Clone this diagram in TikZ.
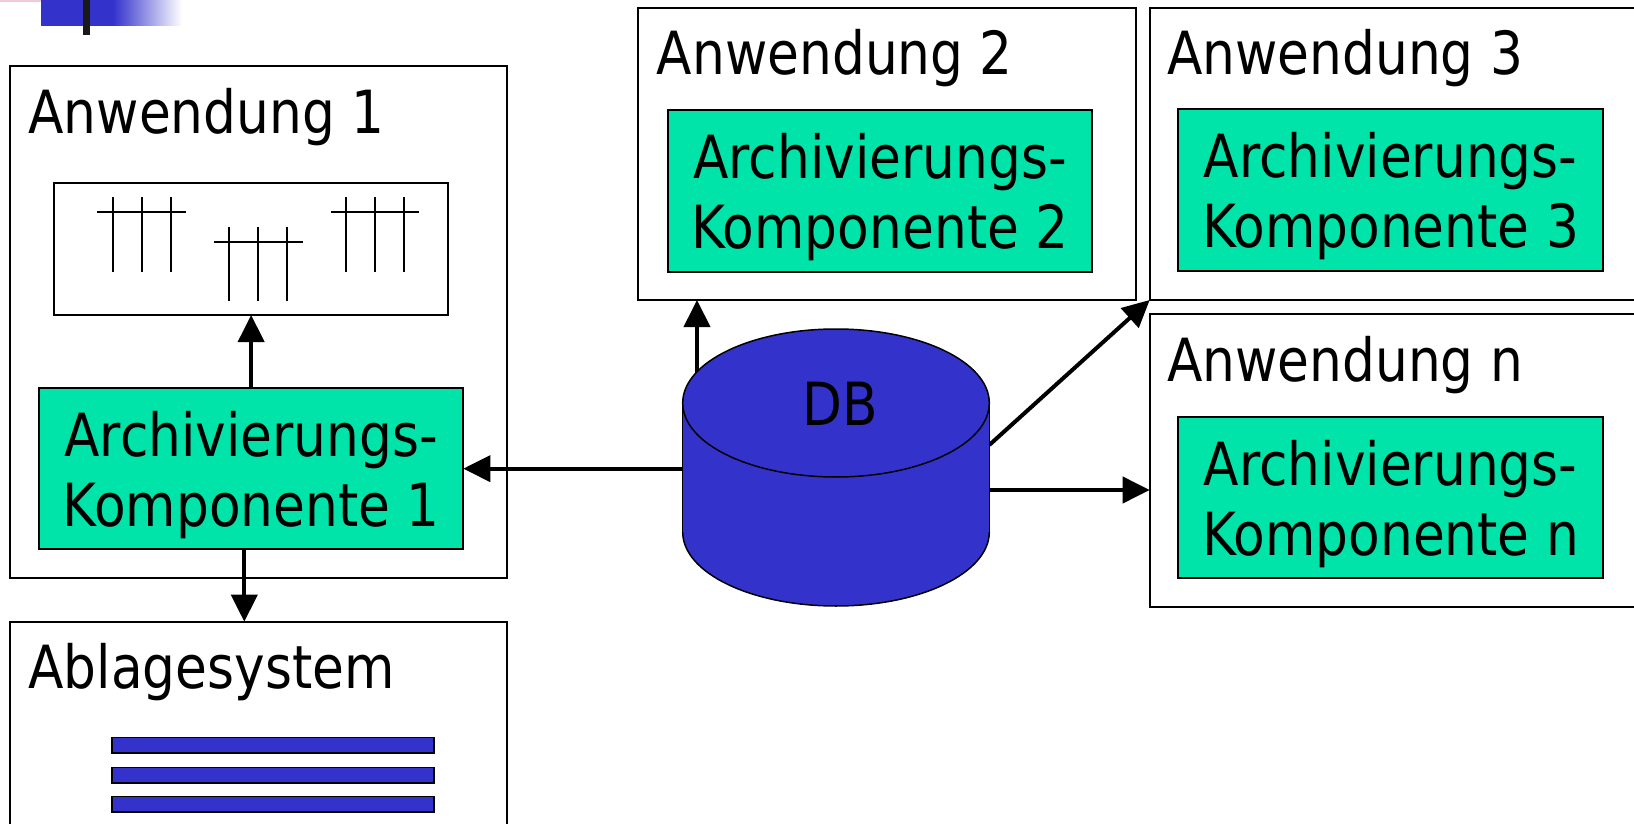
\documentclass[tikz,border=0pt]{standalone}
\usepackage{fontspec}
\setmainfont{DejaVu Sans}[FakeStretch=0.87]
\usetikzlibrary{arrows.meta,calc}
\definecolor{dbblue}{RGB}{51,51,204}
\definecolor{akgreen}{RGB}{0,228,170}
\definecolor{pinkish}{RGB}{240,200,215}
\begin{document}
\begin{tikzpicture}[x=1pt,y=-1pt,
  box/.style={draw=black,line width=2pt,fill=white,inner sep=0pt,outer sep=0pt,anchor=north west},
  akbox/.style={box,fill=akgreen,minimum width=424.5pt,minimum height=161.5pt},
  anwbox/.style={box,minimum width=497.3pt,minimum height=292pt},
  lbl/.style={inner sep=0pt,anchor=base west,font=\fontsize{59.5}{70}\selectfont},
  aktext/.style={inner sep=0pt,align=center,font=\fontsize{59.5}{70}\selectfont},
  arr/.style={line width=4pt,-{Triangle[length=27pt,width=26pt]}},
  tick/.style={line width=2.2pt},
  bar/.style={draw=black,line width=1.5pt,fill=dbblue},
  cyl/.style={draw=black,line width=1.5pt}
]
\useasboundingbox (0,0) rectangle (1634,824);
\clip (0,0) rectangle (1634,824);
\fill[white] (0,0) rectangle (1634,824);

% slide decoration
\fill[pinkish] (0,0) rectangle (69,2.5);
\fill[dbblue] (41,0) rectangle (114,26);
\shade[left color=dbblue,right color=white] (113,0) rectangle (182,26);
\fill[black!90] (83,0) rectangle (90,35);

% boxes
\node[anwbox,minimum height=511.7pt] (anw1) at (10,66) {};
\node[box,minimum width=394.3pt,minimum height=131.7pt] (tab) at (54,183.3) {};
\node[akbox,minimum width=424.3pt,minimum height=160.7pt] (ak1) at (39,388.3) {};
\node[anwbox,minimum height=260pt] (abl) at (10,621.7) {};
\node[anwbox,minimum height=291.7pt] (anw2) at (638.3,8.3) {};
\node[akbox] (ak2) at (667.7,110) {};
\node[anwbox,minimum width=600pt,minimum height=291.7pt] (anw3) at (1149.7,8.3) {};
\node[akbox] (ak3) at (1178.3,109.3) {};
\node[anwbox,minimum width=600pt,minimum height=292.4pt] (anwn) at (1149.7,314.3) {};
\node[akbox] (akn) at (1178.3,416.7) {};

% titles
\node[lbl] (l1) at (28.3,133.3) {Anwendung 1};
\node[lbl] (l2) at (656.7,75) {Anwendung 2};
\node[lbl] (l3) at (1167,75) {Anwendung 3};
\node[lbl] (ln) at (1167,381.7) {Anwendung n};
\node[lbl] (la) at (28.3,688.3) {Ablagesystem};

% component texts
\node[aktext] (ak1t) at ([yshift=-6.5pt]ak1.center) {Archivierungs-\\Komponente 1};
\node[aktext] (ak2t) at ([yshift=-6.5pt]ak2.center) {Archivierungs-\\Komponente 2};
\node[aktext] (ak3t) at ([yshift=-6.5pt]ak3.center) {Archivierungs-\\Komponente 3};
\node[aktext] (aknt) at ([yshift=-6.5pt]akn.center) {Archivierungs-\\Komponente n};

% table icons
\foreach \x/\y in {112.7/212.3, 229.3/241.7, 346/212.3} {
  \draw[tick] (\x-15.4,\y) -- (\x+73.3,\y);
  \foreach \d in {0,29,58} \draw[tick] (\x+\d,\y-15) -- (\x+\d,\y+59.4);
}

% storage bars
\foreach \y in {737.7,767.3,796.7} \draw[bar] (112,\y) rectangle (434,\y+15.5);

% DB area node
\node[inner sep=0pt,outer sep=0pt,minimum width=306.6pt,minimum height=277pt] (db) at (836,467.5) {};
\coordinate (dbup) at (697,373);
\coordinate (dbdiag) at (989.3,445);
\coordinate (dbr) at (989.3,490);
\coordinate (ablx) at (244.3,0);

% connectors
\draw[arr] (ak1.north) -- (tab.south);
\draw[arr] (ak1.south -| ablx) -- (abl.north -| ablx);
\draw[arr] (db.west |- ak1.east) -- (ak1.east);
\draw[arr] (dbup) -- (dbup |- anw2.south);
\draw[arr] (dbdiag) -- (anw3.south west);
\draw[arr] (dbr) -- (dbr -| anwn.west);

% cylinder
\fill[dbblue] (682.7,403) rectangle (989.3,532);
\fill[dbblue] (836,532) ellipse [x radius=153.3, y radius=74];
\draw[cyl] (682.7,403) -- (682.7,532);
\draw[cyl] (989.3,403) -- (989.3,532);
\begin{scope}
  \clip (600,532) rectangle (1100,700);
  \draw[cyl] (836,532) ellipse [x radius=153.3, y radius=74];
\end{scope}
\draw[cyl,fill=dbblue] (836,403) ellipse [x radius=153.3, y radius=74];
\node[inner sep=0pt,anchor=base,font=\fontsize{59.5}{70}\selectfont] (dbt) at (840.5,425.7) {DB};
\end{tikzpicture}
\end{document}
